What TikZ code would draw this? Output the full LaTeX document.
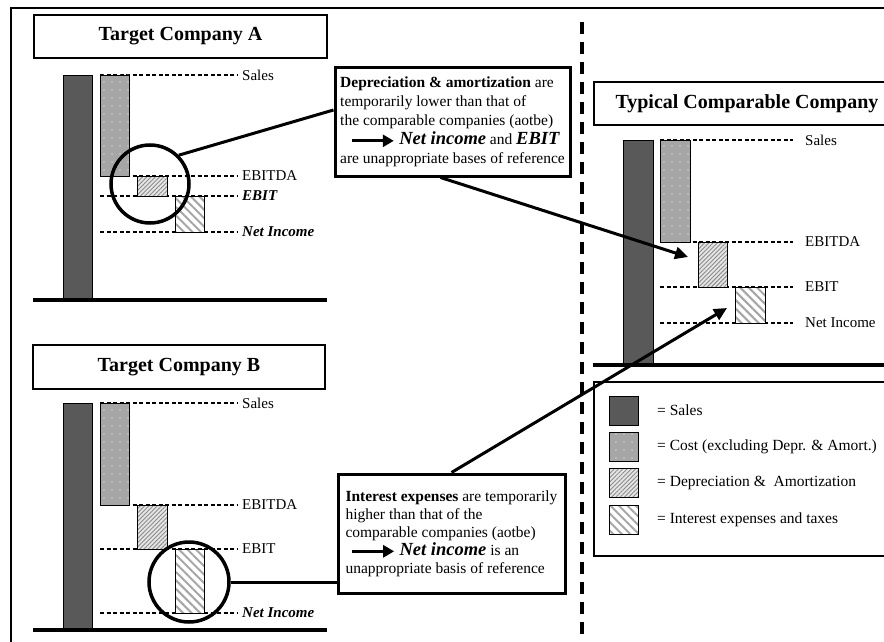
\documentclass[tikz,border=0pt]{standalone}
\usepackage{fontspec}
\setmainfont{Liberation Serif}
\usetikzlibrary{patterns.meta,arrows.meta}
\newcommand{\txtarrow}{\tikz[baseline=-0.55ex]\draw[line width=3.2pt,-{Triangle[length=11pt,width=12pt]}] (0pt,0pt)--(42pt,0pt);}
\newcommand{\bigbi}{\fontsize{18.5}{18.5}\selectfont\bfseries\itshape}
\begin{document}
\begin{tikzpicture}[x=1pt,y=-1pt,
 titlebox/.style={draw,line width=1.2pt,fill=white,font=\fontsize{20}{24}\selectfont\bfseries,inner sep=0pt},
 salesbar/.style={draw,line width=0.7pt,fill=black!65},
 costbar/.style={draw,line width=0.7pt,preaction={fill=black!35},pattern={Dots[distance=8pt,radius=0.65pt]},pattern color=white},
 dabar/.style={draw,line width=0.7pt,preaction={fill=black!10},pattern={Lines[angle=45,distance=3pt,line width=0.9pt]},pattern color=black!45},
 intbar/.style={draw,line width=0.7pt,preaction={fill=white},pattern={Lines[angle=-45,distance=6pt,line width=2pt]},pattern color=black!35},
 levelline/.style={line width=1.3pt,dash pattern=on 4pt off 2.5pt},
 lab/.style={anchor=west,font=\fontsize{15}{17}\selectfont,inner sep=2pt},
 legtext/.style={anchor=west,font=\fontsize{15.5}{17}\selectfont,inner sep=2pt},
 baseln/.style={line width=3.2pt},
 ring/.style={circle,draw,line width=3.5pt,inner sep=0pt,minimum size=78},
 callout/.style={draw,line width=3pt,fill=white,align=left,inner sep=3pt},
 conn/.style={line width=3pt},
 arr/.style={line width=3pt,-{Triangle[length=13pt,width=12pt]}},
 swatch/.style={minimum width=29,minimum height=29,inner sep=0pt},
]
\useasboundingbox (0,0) rectangle (884,642);
\clip (0,0) rectangle (884,642);

% outer frame and divider
\draw[line width=1.5pt] (11,642) -- (11,8) -- (884,8);
\draw[line width=4pt,dash pattern=on 12pt off 8pt] (582,22) -- (582,642);

% titles
\node[titlebox,minimum width=293,minimum height=43] (tA) at (180.5,36.5) {Target Company A};
\node[titlebox,minimum width=292,minimum height=44] (tB) at (179,367) {Target Company B};
\node[titlebox,minimum width=306,minimum height=43] (tC) at (747,103.5) {Typical Comparable Company};

% ---- Company A
\draw[levelline] (100,75) -- (237,75);
\draw[levelline] (100,176) -- (237,176);
\draw[levelline] (100,196) -- (237,196);
\draw[levelline] (100,232) -- (237,232);
\draw[salesbar] (63,75) rectangle (92,300);
\draw[costbar] (100,75) rectangle (129,176);
\draw[dabar] (137,176) rectangle (167,196);
\draw[intbar] (175,196) rectangle (204,232);
\draw[baseln] (33,300) -- (327,300);
\node[lab] (aS) at (240,75) {Sales};
\node[lab] (aE) at (240,176) {EBITDA};
\node[lab] (aB) at (240,196) {\textbf{\textit{EBIT}}};
\node[lab] (aN) at (240,232) {\textbf{\textit{Net Income}}};

% ---- Company B
\draw[levelline] (100,403) -- (237,403);
\draw[levelline] (100,505) -- (237,505);
\draw[levelline] (100,549) -- (237,549);
\draw[levelline] (100,613) -- (237,613);
\draw[salesbar] (63,403) rectangle (92,630);
\draw[costbar] (100,403) rectangle (129,505);
\draw[dabar] (137,505) rectangle (167,549);
\draw[intbar] (175,549) rectangle (204,613);
\draw[baseln] (33,630) -- (327,630);
\node[lab] (bS) at (240,403) {Sales};
\node[lab] (bE) at (240,505) {EBITDA};
\node[lab] (bB) at (240,549) {EBIT};
\node[lab] (bN) at (240,613) {\textbf{\textit{Net Income}}};

% ---- Typical company
\draw[levelline] (660,140) -- (793,140);
\draw[levelline] (660,242) -- (793,242);
\draw[levelline] (660,287) -- (793,287);
\draw[levelline] (660,323) -- (793,323);
\draw[salesbar] (623,140) rectangle (653,365);
\draw[costbar] (660,140) rectangle (690,242);
\draw[dabar] (698,242) rectangle (727,287);
\draw[intbar] (735,287) rectangle (765,323);
\draw[baseln] (593,365) -- (884,365);
\node[lab] (cS) at (803,140) {Sales};
\node[lab] (cE) at (803,242) {EBITDA};
\node[lab] (cB) at (803,287) {EBIT};
\node[lab] (cN) at (803,323) {Net Income};

% ---- legend
\draw[line width=1.2pt] (594,382) rectangle (900,556);
\node[swatch,salesbar] (lg1) at (623.5,410.5) {};
\node[swatch,costbar] (lg2) at (623.5,447) {};
\node[swatch,dabar] (lg3) at (623.5,483) {};
\node[swatch,intbar] (lg4) at (623.5,520) {};
\node[legtext] (lt1) at (655,410.5) {= Sales};
\node[legtext] (lt2) at (655,447) {= Cost (excluding Depr. \& Amort.)};
\node[legtext] (lt3) at (655,483) {= Depreciation \&\ \ Amortization};
\node[legtext] (lt4) at (655,520) {= Interest expenses and taxes};

% ---- circles
\node[ring] (circA) at (150,184) {};
\node[ring,minimum size=80] (circB) at (189,582) {};

% ---- callouts
\node[callout,font=\fontsize{15.5}{19}\selectfont,minimum width=235,minimum height=108] (callA) at (452.5,122)
 {\textbf{Depreciation \& amortization} are\\
  temporarily lower than that of\\
  the comparable companies (aotbe)\\
  \hspace*{10pt}\txtarrow\ {\bigbi Net income} and {\bigbi EBIT}\\
  are unappropriate bases of reference};
\node[callout,font=\fontsize{15.5}{18}\selectfont,minimum width=227,minimum height=119] (callB) at (451.5,533.5)
 {\textbf{Interest expenses} are temporarily\\
  higher than that of the\\
  comparable companies (aotbe)\\
  \hspace*{5pt}\txtarrow\ {\bigbi Net income} is an\\
  unappropriate basis of reference};

% ---- connectors
\draw[conn] (circA.45) -- ([yshift=12pt]callA.west);
\draw[conn] (circB.east) -- (circB.east -| callB.west);
\coordinate (tipA) at (688,257);
\coordinate (tipB) at (727,308);
\draw[arr] ([xshift=-12pt]callA.south) -- (tipA);
\draw[arr] (callB.north) -- (tipB);
\end{tikzpicture}
\end{document}
